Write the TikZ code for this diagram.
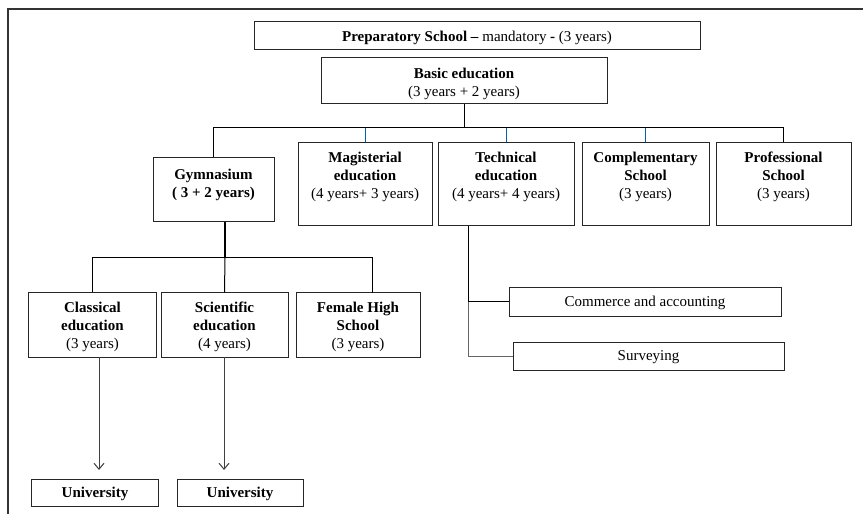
\documentclass[tikz,border=0pt]{standalone}
\usepackage{fontspec}
\setmainfont{Liberation Serif}
\usetikzlibrary{arrows.meta}
\tikzset{
  box/.style={draw=black!85, line width=1bp, inner sep=0pt, fill=white},
  txt/.style={align=center, inner sep=0pt, font=\fontsize{15bp}{18bp}\selectfont},
  conn/.style={draw=black, line width=1bp},
  blueconn/.style={draw=blue!45!cyan!70!black, line width=0.9bp},
  thickconn/.style={draw=black, line width=2bp},
  grayconn/.style={draw=black!60, line width=1bp},
  arr/.style={draw=black!75, line width=1bp, -{Straight Barb[length=6bp,width=10bp,line width=1bp]}},
  frameline/.style={draw=black!80, line width=2bp}
}
\begin{document}
\begin{tikzpicture}[x=1bp,y=-1bp]
\useasboundingbox (0,0) rectangle (863,514);
% outer frame
\draw[frameline] (8,514) -- (8,9) -- (863,9);

% boxes
\node[box, minimum width=446bp, minimum height=28bp] (prep) at (477,36) {};
\node[txt] (prepT) at ([yshift=-2bp]prep.center) {\textbf{Preparatory School –} mandatory \textbf{-} (3 years)};

\node[box, minimum width=286bp, minimum height=46bp] (basic) at (464,81) {};
\node[txt] (basicT) at ([yshift=-3bp]basic.center) {\textbf{Basic education}\\(3 years + 2 years)};

\node[box, minimum width=121bp, minimum height=64bp] (gym) at (213.5,190) {};
\node[txt, anchor=north] (gymT) at ([yshift=-11bp]gym.north) {\textbf{Gymnasium}\\\textbf{( 3 + 2 years)}};

\node[box, minimum width=134bp, minimum height=83bp] (mag) at (365,184.5) {};
\node[txt, anchor=north] (magT) at ([yshift=-9bp]mag.north) {\textbf{Magisterial}\\\textbf{education}\\(4 years+ 3 years)};

\node[box, minimum width=136bp, minimum height=83bp] (tech) at (506,184.5) {};
\node[txt, anchor=north] (techT) at ([yshift=-9bp]tech.north) {\textbf{Technical}\\\textbf{education}\\(4 years+ 4 years)};

\node[box, minimum width=127bp, minimum height=83bp] (comp) at (645.5,184.5) {};
\node[txt, anchor=north] (compT) at ([yshift=-9bp]comp.north) {\textbf{Complementary}\\\textbf{School}\\(3 years)};

\node[box, minimum width=135bp, minimum height=83bp] (prof) at (783.5,184.5) {};
\node[txt, anchor=north] (profT) at ([yshift=-9bp]prof.north) {\textbf{Professional}\\\textbf{School}\\(3 years)};

\node[box, minimum width=127bp, minimum height=64bp] (class) at (92.5,325) {};
\node[txt] (classT) at ([yshift=-2bp]class.center) {\textbf{Classical}\\\textbf{education}\\(3 years)};

\node[box, minimum width=127bp, minimum height=64bp] (sci) at (224.5,325) {};
\node[txt] (sciT) at ([yshift=-2bp]sci.center) {\textbf{Scientific}\\\textbf{education}\\(4 years)};

\node[box, minimum width=124bp, minimum height=64bp] (fem) at (358,325) {};
\node[txt] (femT) at ([yshift=-2bp]fem.center) {\textbf{Female High}\\\textbf{School}\\(3 years)};

\node[box, minimum width=126bp, minimum height=27bp] (uni1) at (95,492.5) {};
\node[txt] (uni1T) at ([yshift=-1bp]uni1.center) {\textbf{University}};

\node[box, minimum width=126bp, minimum height=27bp] (uni2) at (240,492.5) {};
\node[txt] (uni2T) at ([yshift=-1bp]uni2.center) {\textbf{University}};

\node[box, minimum width=272bp, minimum height=28bp] (comm) at (645,302) {};
\node[txt] (commT) at ([yshift=-1bp]comm.center) {Commerce and accounting};

\node[box, minimum width=271bp, minimum height=28bp] (surv) at (648.5,356) {};
\node[txt] (survT) at ([yshift=-1bp]surv.center) {Surveying};

% top tree
\coordinate (h) at (464,128);
\draw[conn] (basic.south) -- (h);
\draw[conn] (gym.north) -- (gym.north |- h) -- (prof.north |- h) -- (prof.north);
\draw[blueconn] (mag.north |- h) -- (mag.north);
\draw[blueconn] (tech.north |- h) -- (tech.north);
\draw[blueconn] (comp.north |- h) -- (comp.north);

% gymnasium tree
\coordinate (gs) at (225,222);
\coordinate (g2) at (225,258);
\coordinate (fx) at (372,293);
\draw[thickconn] (gs) -- (g2);
\draw[conn] (class.north) -- (class.north |- g2) -- (fx |- g2) -- (fx);
\draw[conn] (g2) -- (sci.north);

% arrows to university
\coordinate (a1s) at (99,357);
\coordinate (a1e) at (99,470);
\coordinate (a2s) at (224,357);
\coordinate (a2e) at (224,470);
\draw[arr] (a1s) -- (a1e);
\draw[arr] (a2s) -- (a2e);

% technical branches
\coordinate (ts) at (468,226);
\draw[conn] (ts) -- (ts |- comm.west) -- (comm.west);
\draw[grayconn] (ts |- comm.west) -- (ts |- surv.west) -- (surv.west);
\end{tikzpicture}
\end{document}
